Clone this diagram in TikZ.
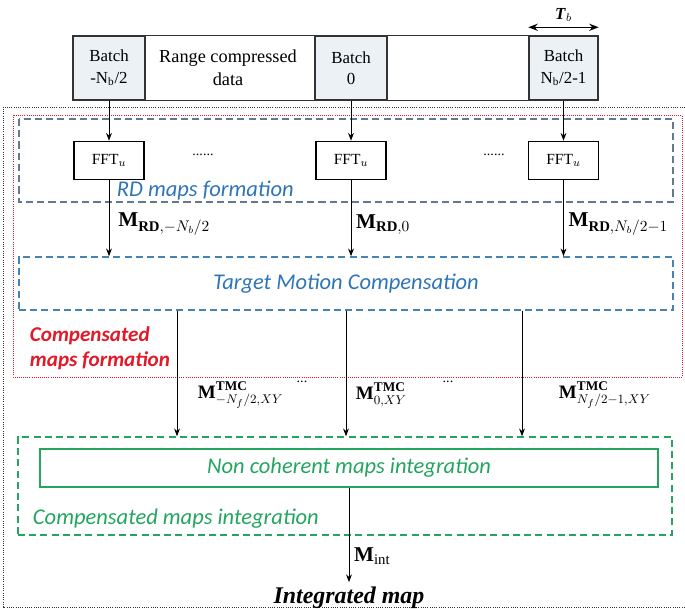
\documentclass[tikz,border=0pt]{standalone}
\usepackage{fontspec}
\setmainfont{Liberation Serif}
\newfontfamily\calfont{Carlito}
\usepackage{amsmath}
\usetikzlibrary{positioning,arrows.meta,calc}
\definecolor{redc}{RGB}{225,25,40}
\definecolor{greenc}{RGB}{35,165,95}
\definecolor{tmcblue}{RGB}{70,130,180}
\definecolor{rdgray}{RGB}{100,120,145}
\definecolor{rdblue}{RGB}{46,117,182}
\definecolor{batchfill}{RGB}{236,241,246}
\tikzstyle{batch} = [rectangle, draw=black!80, line width=1pt, fill=batchfill,
                     minimum width=1.8cm, minimum height=1.6cm, align=center,
                     inner sep=1pt, font=\fontsize{12}{15}\selectfont]
\tikzstyle{fft}   = [rectangle, draw, line width=0.8pt, minimum width=1.75cm,
                     minimum height=0.95cm, inner sep=0pt, font=\fontsize{11}{13}\selectfont]
\tikzstyle{ptr}   = [draw, -{Stealth[scale=0.9]}, line width=0.7pt]
\tikzstyle{dbox}  = [rectangle, line width=1pt, dash pattern=on 5pt off 3pt]
\tikzstyle{lab}   = [font=\calfont\itshape\fontsize{16}{18}\selectfont]
\tikzstyle{mlab}  = [font=\fontsize{15}{17}\selectfont]
\tikzstyle{tlab}  = [font=\fontsize{13.5}{16}\selectfont, anchor=west]

\begin{document}
\begin{tikzpicture}[x=0.025cm, y=-0.025cm, node distance=1cm, auto]
		\useasboundingbox (0,0) rectangle (685,609);
		\draw[black!80, densely dotted, line width=0.6pt] (685,107) -- (3,107) -- (3,607) -- (685,607);
		\draw[redc, densely dotted, line width=0.5pt] (13,115) rectangle (682,377);
		\draw[dbox, draw=rdgray] (19,119) rectangle (673,202);

		\node[batch] (bL) at (109,68) {Batch\\-N\textsubscript{b}/2};
		\node[batch] (bM) at (351,68) {Batch\\0};
		\node[batch, minimum width=1.725cm] (bR) at (563.5,68) {Batch\\N\textsubscript{b}/2-1};
		\node[align=center, font=\fontsize{13}{16}\selectfont] (rcd) at (228,68) {Range compressed\\data};
		\draw[black!80, line width=0.6pt] (bL.north east) -- (bM.north west) (bM.north east) -- (bR.north west)
		      (bL.south east) -- (bM.south west) (bM.south east) -- (bR.south west);
		\draw[{Stealth[scale=0.9]}-{Stealth[scale=0.9]}, line width=1pt]
		      ([yshift=0.2cm]bR.north west) -- node[above, font=\fontsize{12}{14}\selectfont] {\textbf{\textit{T}}$_b$} ([yshift=0.2cm]bR.north east);

		\node[fft, below=1cm of bL] (fL) {FFT$_u$};
		\node[fft, below=1cm of bM] (fM) {FFT$_u$};
		\node[fft, below=1cm of bR] (fR) {FFT$_u$};
		\node[font=\fontsize{10}{10}\selectfont] (d1) at (203,155) {......};
		\node[font=\fontsize{10}{10}\selectfont] (d2) at (494,155) {......};
		\node[lab, text=rdblue, anchor=west] (rdl) at (112,191) {RD maps formation};

		\node[dbox, draw=tmcblue, text=rdblue, lab, minimum width=16.35cm, minimum height=1.325cm] (tmc) at (346,283.5) {Target Motion Compensation};
		\node[anchor=west, align=left, text=redc, font=\calfont\bfseries\itshape\fontsize{15}{18}\selectfont] (cmf) at (25,348) {Compensated\\maps formation};

		\draw[ptr] (bL) -- (fL);
		\draw[ptr] (bM) -- (fM);
		\draw[ptr] (bR) -- (fR);
		\draw[ptr] (fL) -- node[mlab, pos=0.58, right, xshift=3pt] {\textbf{M}$_{\textbf{RD},-N_b/2}$} (fL |- tmc.north);
		\draw[ptr] (fM) -- node[mlab, pos=0.58, right] {\textbf{M}$_{\textbf{RD},0}$} (fM |- tmc.north);
		\draw[ptr] (fR) -- node[mlab, pos=0.58, right] {\textbf{M}$_{\textbf{RD},N_b/2-1}$} (fR |- tmc.north);

		\node[dbox, draw=greenc, minimum width=16.35cm, minimum height=2.45cm] (cmi) at (345,486) {};
		\node[rectangle, draw=greenc, line width=1pt, text=greenc, lab, minimum width=15.45cm, minimum height=0.95cm] (nci) at (349,468) {Non coherent maps integration};
		\node[lab, text=greenc, anchor=west] (cml) at (28,519) {Compensated maps integration};

		\coordinate (c1) at (177,0);
		\coordinate (c2) at (346,0);
		\coordinate (c3) at (522,0);
		\draw[ptr] (tmc.south -| c1) -- (cmi.north -| c1);
		\draw[ptr] (tmc.south -| c2) -- (cmi.north -| c2);
		\draw[ptr] (tmc.south -| c3) -- (cmi.north -| c3);
		\node[tlab] (t1) at (193,395) {\textbf{M}$^{\textbf{TMC}}_{-N_f/2,XY}$};
		\node[tlab] (t2) at (351,395) {\textbf{M}$^{\textbf{TMC}}_{0,XY}$};
		\node[tlab] (t3) at (554,395) {\textbf{M}$^{\textbf{TMC}}_{N_f/2-1,XY}$};
		\node[font=\fontsize{10}{10}\selectfont] (d3) at (302,382) {...};
		\node[font=\fontsize{10}{10}\selectfont] (d4) at (448,382) {...};

		\node[font=\bfseries\itshape\fontsize{17}{19}\selectfont] (imap) at (349,598) {Integrated map};
		\draw[ptr] (nci) -- node[mlab, pos=0.72, right] {\textbf{M}$_{\mathrm{int}}$} (imap);
	\end{tikzpicture}
\end{document}
